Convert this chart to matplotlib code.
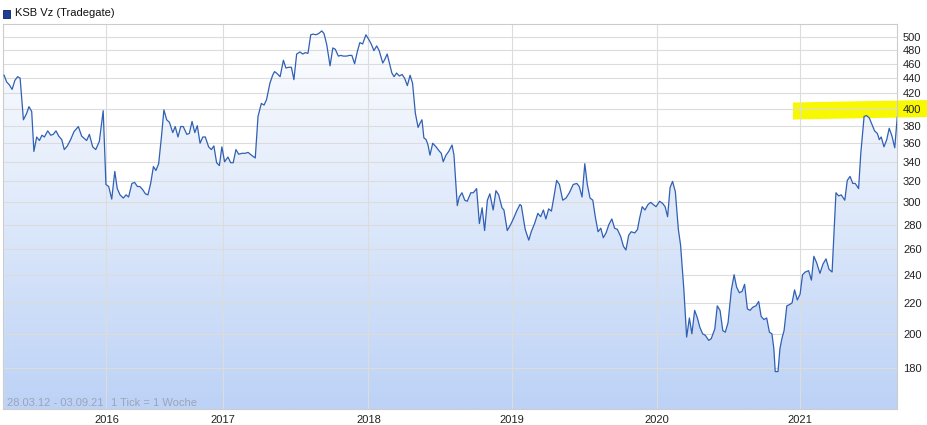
import numpy as np
import matplotlib
matplotlib.use('Agg')
from matplotlib import pyplot as plt
from matplotlib.patches import Polygon, Rectangle
from matplotlib.colors import LinearSegmentedColormap
from matplotlib.ticker import NullLocator

plt.rcParams['font.family'] = ['Liberation Sans', 'DejaVu Sans']

# weekly closing prices, x = week number on the chart
weeks = [0.4, 1.3, 2.3, 3.3, 4.3, 5.3, 6.2, 7.4, 8.6, 9.4,
         10.4, 11.2, 12.2, 13.2, 14.1, 15.0, 16.2, 17.3, 18.2, 19.2,
         20.2, 21.3, 22.2, 23.3, 24.5, 25.7, 27.3, 28.5, 30.3, 31.3,
         32.5, 33.6, 34.9, 36.3, 37.3, 38.3, 39.4, 40.5, 41.4, 42.4,
         43.6, 44.6, 45.5, 46.7, 47.7, 48.7, 49.6, 50.6, 51.6, 52.5,
         53.5, 54.5, 55.4, 56.4, 57.4, 58.3, 59.3, 60.3, 61.5, 62.4,
         63.4, 64.4, 65.3, 66.6, 67.5, 68.5, 69.5, 70.4, 71.4, 72.4,
         73.3, 74.5, 75.5, 76.4, 77.4, 78.4, 79.3, 80.3, 81.5, 82.5,
         83.4, 84.4, 85.4, 86.6, 87.8, 88.8, 90.0, 91.4, 92.4, 93.6,
         94.6, 95.5, 96.7, 97.7, 98.4, 99.4, 100.4, 101.6, 102.5, 103.5,
         104.5, 105.4, 106.4, 107.6, 108.6, 109.5, 110.5, 111.5, 112.4, 113.4,
         114.4, 115.5, 116.3, 117.3, 118.5, 119.5, 120.4, 121.5, 122.4, 123.3,
         124.5, 125.5, 126.4, 127.4, 128.4, 129.3, 130.3, 131.5, 132.5, 133.4,
         134.4, 135.4, 136.3, 137.6, 138.3, 139.2, 140.2, 140.9, 141.7, 142.6,
         143.6, 144.6, 145.5, 146.5, 147.5, 148.4, 149.4, 150.4, 151.1, 151.8,
         152.5, 153.3, 154.0, 154.7, 155.7, 156.9, 157.9, 158.8, 159.5, 160.5,
         161.5, 162.7, 163.4, 164.6, 165.3, 166.3, 167.3, 168.2, 169.5, 170.4,
         171.6, 172.6, 173.6, 174.5, 175.5, 176.4, 177.6, 178.6, 179.6, 180.8,
         181.5, 182.7, 183.9, 184.9, 186.1, 187.3, 187.8, 189.2, 190.5, 191.4,
         192.6, 193.8, 194.8, 195.8, 196.7, 197.7, 198.7, 199.6, 200.6, 201.6,
         202.8, 204.0, 205.2, 206.6, 207.9, 208.8, 209.8, 210.8, 211.7, 212.7,
         213.7, 214.6, 215.6, 216.6, 217.5, 218.5, 219.5, 220.6, 221.6, 222.6,
         223.8, 224.8, 225.7, 226.7, 227.6, 228.9, 229.9, 230.6, 231.6, 232.6,
         233.7, 234.7, 235.6, 236.6, 237.9, 239.0, 239.9, 240.8, 241.7, 242.6,
         243.6, 244.7, 245.5, 246.7, 247.7, 248.7, 249.6, 250.6, 251.6, 252.5,
         253.5, 254.5, 255.7, 256.6, 257.9, 258.8, 259.8, 260.8, 261.7, 262.7,
         263.9, 264.9, 265.8, 266.8, 267.8, 268.7, 269.7, 270.7, 271.6, 272.8,
         273.8, 274.7, 275.7, 276.7, 277.7, 278.6, 279.3, 279.8, 280.8, 281.5,
         282.2, 283.0, 284.0, 285.1, 285.9, 286.8, 287.8, 288.8, 289.7, 290.7,
         291.9, 292.9, 293.8, 294.8, 296.0, 297.1, 298.2, 299.3, 300.4, 301.8,
         302.8, 303.7, 305.0, 305.9, 306.9, 307.9, 308.8, 310.0, 310.8, 312.0,
         312.9, 313.9, 314.9, 315.8, 316.8, 317.5, 318.2, 319.2, 320.2, 321.1,
         322.1, 323.1, 324.0]

prices = [444, 435, 431, 425, 437, 442, 440, 387, 395, 403,
          397, 351, 367, 363, 369, 367, 374, 369, 370, 374,
          368, 364, 353, 357, 364, 373, 379, 368, 363, 370,
          356, 353, 362, 398, 317, 315, 303, 330, 313, 307,
          304, 307, 305, 318, 319, 315, 315, 312, 308, 307,
          318, 335, 331, 338, 367, 399, 387, 384, 372, 379,
          367, 379, 379, 370, 371, 385, 372, 380, 360, 367,
          367, 356, 353, 357, 339, 336, 356, 340, 345, 339,
          339, 353, 348, 349, 349, 350, 347, 344, 391, 407,
          405, 412, 433, 444, 449, 446, 442, 465, 454, 455,
          455, 438, 474, 477, 474, 476, 475, 503, 504, 503,
          505, 509, 505, 488, 457, 483, 481, 471, 472, 471,
          471, 472, 472, 460, 478, 491, 489, 503, 496, 489,
          479, 486, 479, 461, 466, 474, 458, 447, 442, 447,
          443, 445, 440, 430, 444, 433, 395, 378, 383, 387,
          366, 364, 358, 347, 360, 356, 352, 349, 340, 347,
          351, 358, 347, 297, 305, 309, 302, 301, 309, 309,
          313, 281, 295, 275, 302, 308, 293, 311, 307, 295,
          293, 275, 280, 285, 292, 298, 297, 276, 267, 274,
          281, 290, 287, 293, 285, 294, 292, 305, 321, 317,
          302, 304, 309, 317, 318, 315, 305, 338, 317, 304,
          302, 287, 274, 277, 269, 273, 280, 285, 277, 276,
          270, 262, 259, 271, 274, 273, 276, 285, 296, 293,
          298, 300, 298, 296, 301, 299, 296, 287, 314, 320,
          310, 276, 263, 229, 198, 210, 200, 215, 210, 204,
          200, 199, 196, 197, 203, 218, 215, 202, 201, 207,
          229, 240, 231, 227, 228, 233, 216, 215, 217, 218,
          221, 211, 209, 210, 201, 200, 191, 178, 178, 191,
          197, 202, 218, 219, 220, 229, 222, 226, 240, 242,
          243, 236, 254, 249, 241, 248, 252, 244, 242, 309,
          306, 307, 302, 321, 325, 318, 318, 313, 349, 391,
          392, 389, 381, 374, 371, 364, 367, 356, 364, 377,
          368, 355, 390]

y_ticks = [180, 200, 220, 240, 260, 280, 300, 320, 340, 360,
           380, 400, 420, 440, 460, 480, 500]
year_labels = ['2016', '2017', '2018', '2019', '2020', '2021']
year_weeks = [37.5, 79.6, 132.4, 184.5, 236.8, 288.8]

W, H = 928, 425
fig = plt.figure(figsize=(W / 100, H / 100), dpi=100)
fig.patch.set_facecolor('white')
ax = fig.add_axes([3 / W, 1 - 409 / H, 894.5 / W, 385 / H])
ax.set_facecolor('none')

# gradient under the line
cmap = LinearSegmentedColormap.from_list('fill', ['#bcd2f6', '#ffffff'])
grad = np.linspace(0, 1, 256).reshape(-1, 1)
im = ax.imshow(grad, aspect='auto', cmap=cmap, extent=[0, 1, 0, 1],
               transform=ax.transAxes, origin='lower', zorder=1)

ax.set_yscale('log')
ax.set_xlim(0, 324.1)
ax.set_ylim(158.6, 520)

poly = ax.fill_between(weeks, prices, 100, color='none', lw=0)
im.set_clip_path(poly.get_paths()[0], ax.transData)

ax.plot(weeks, prices, color='#3060b4', lw=0.9, zorder=3)

ax.set_yticks(y_ticks)
ax.set_yticklabels([str(t) for t in y_ticks])
ax.yaxis.set_minor_locator(NullLocator())
ax.yaxis.tick_right()
ax.set_xticks(year_weeks)
ax.set_xticklabels(year_labels)
ax.xaxis.set_minor_locator(NullLocator())
ax.tick_params(axis='both', length=0, labelsize=8, labelcolor='#222222')
ax.tick_params(axis='y', pad=4)
ax.tick_params(axis='x', pad=4)
ax.grid(True, color='#dcdcdc', lw=0.8)

for s in ax.spines.values():
    s.set_color('#cccccc')
    s.set_linewidth(0.8)

ax.text(4 / 894.5, 6 / 385, '28.03.12 - 03.09.21', transform=ax.transAxes,
        fontsize=8, color='#9aa5b8', va='center', zorder=4)
ax.text(108 / 894.5, 6 / 385, '1 Tick = 1 Woche', transform=ax.transAxes,
        fontsize=8, color='#9aa5b8', va='center', zorder=4)

# legend / title box
fig.add_artist(Rectangle((3 / W, 1 - 17.5 / H), 7 / W, 7 / H,
                         transform=fig.transFigure, facecolor='#1f3f94',
                         edgecolor='#0c1f57', lw=0.6))
fig.text(15 / W, 1 - 13.5 / H, 'KSB Vz (Tradegate)', fontsize=8,
         va='center', ha='left', color='#111111')

# yellow highlighter mark at 400
hl = [(793, 102.5), (928, 100), (928, 117), (793, 119.5)]
fig.add_artist(Polygon([(x / W, 1 - y / H) for x, y in hl], closed=True,
                       transform=fig.transFigure, facecolor='#f8f800',
                       edgecolor='none', zorder=-1))

fig.savefig('out.png', dpi=100)
